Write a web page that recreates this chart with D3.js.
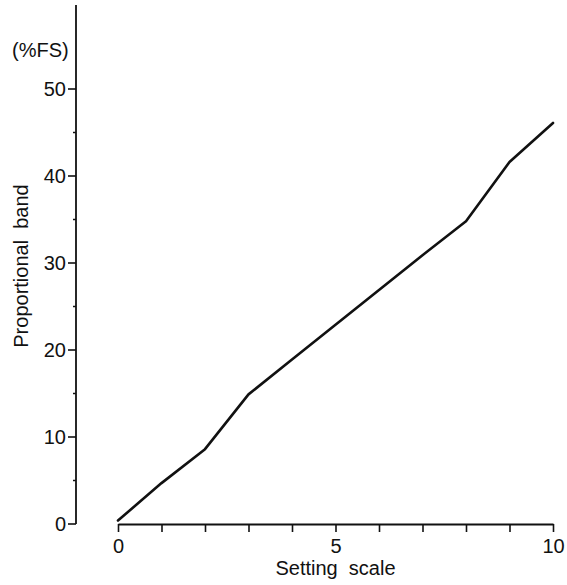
<!DOCTYPE html>
<html><head><meta charset="utf-8">
<script src="https://cdnjs.cloudflare.com/ajax/libs/d3/7.8.5/d3.min.js"></script>
<style>body{margin:0;background:#fff}svg{display:block}text{font-family:"Liberation Sans",Arial,Helvetica,sans-serif;fill:#111}</style>
</head><body><svg id="c" width="567" height="585"></svg>
<script>
const settingScale = [0,1,2,3,4,5,6,7,8,9,10];
const proportionalBand = [0.4,4.7,8.6,14.9,18.9,22.9,26.9,30.9,34.8,41.6,46.1];
const yTicks = [0,10,20,30,40,50];
const xTicks = [0,5,10];

const FS = 20;
const svg = d3.select("#c");
const x = d3.scaleLinear().domain([0,10]).range([118,553]);
const y = d3.scaleLinear().domain([0,50]).range([524,89]);
const axisX = 76;

// Y axis line
svg.append("line").attr("x1",axisX).attr("x2",axisX).attr("y1",5).attr("y2",y(0))
  .attr("stroke","#111").attr("stroke-width",1.8);
const yg = svg.append("g");
yTicks.forEach(v=>{
  yg.append("line").attr("x1",axisX-8).attr("x2",axisX).attr("y1",y(v)).attr("y2",y(v)).attr("stroke","#111").attr("stroke-width",1.6);
  yg.append("text").attr("x",axisX-10).attr("y",y(v)).attr("dy","0.36em").attr("text-anchor","end").attr("font-size",FS).text(v);
});
d3.range(5,50,10).forEach(v=>{
  yg.append("line").attr("x1",axisX-3).attr("x2",axisX).attr("y1",y(v)).attr("y2",y(v)).attr("stroke","#111").attr("stroke-width",1.5);
});
svg.append("text").attr("x",12).attr("y",57).attr("font-size",FS).text("(%FS)");
svg.append("text").attr("transform",`translate(28,266) rotate(-90)`).attr("text-anchor","middle")
  .attr("font-size",FS).text("Proportional\u00A0 band");

// X axis
const xAxis = d3.axisBottom(x).tickValues(settingScale).tickSize(8).tickSizeOuter(0)
  .tickFormat(d=>xTicks.includes(d)?d:"");
const gx = svg.append("g").attr("transform",`translate(0,${y(0)})`).call(xAxis);
gx.select(".domain").attr("stroke","#111").attr("stroke-width",1.8);
gx.selectAll(".tick line").attr("stroke","#111").attr("stroke-width",1.6);
gx.selectAll(".tick text").attr("font-size",FS).attr("font-family","Liberation Sans, Arial, sans-serif")
  .attr("fill","#111").attr("y",29).attr("dy",0);
svg.append("text").attr("x",x(5)).attr("y",575).attr("text-anchor","middle").attr("font-size",FS).text("Setting\u00A0 scale");

// line
const line = d3.line().x((d,i)=>x(settingScale[i])).y(d=>y(d));
svg.append("path").datum(proportionalBand).attr("d",line).attr("fill","none")
  .attr("stroke","#111").attr("stroke-width",2.6).attr("stroke-linejoin","round").attr("stroke-linecap","round");
</script></body></html>
